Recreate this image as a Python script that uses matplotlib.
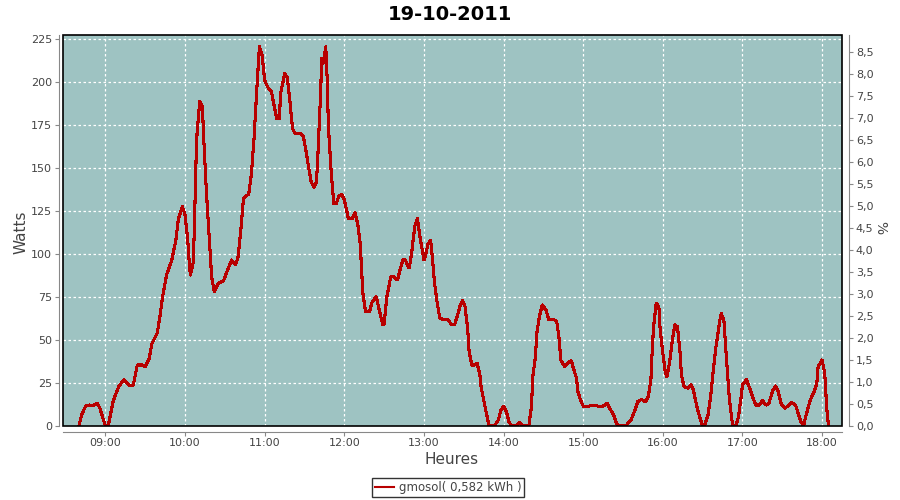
import matplotlib
matplotlib.use('Agg')
import matplotlib.pyplot as plt
import matplotlib.dates as mdates
from matplotlib.patches import Rectangle
from matplotlib.ticker import MultipleLocator, FuncFormatter
import pandas as pd

day = '2011-10-19'
title = '19-10-2011'
serie_name = 'gmosol( 0,582 kWh )'

heures = ['08:40', '08:42', '08:45', '08:48', '08:51', '08:54', '08:56', '08:58', '09:00', '09:02',
          '09:04', '09:06', '09:10', '09:14', '09:16', '09:19', '09:21', '09:24', '09:28', '09:30',
          '09:33', '09:35', '09:39', '09:41', '09:43', '09:46', '09:50', '09:53', '09:55', '09:58',
          '10:00', '10:02', '10:03', '10:04', '10:06', '10:07', '10:08', '10:09', '10:11', '10:13',
          '10:14', '10:16', '10:18', '10:20', '10:22', '10:25', '10:29', '10:32', '10:35', '10:38',
          '10:40', '10:42', '10:44', '10:48', '10:50', '10:52', '10:54', '10:56', '10:58', '11:00',
          '11:03', '11:05', '11:07', '11:09', '11:11', '11:12', '11:15', '11:17', '11:19', '11:21',
          '11:23', '11:27', '11:29', '11:31', '11:33', '11:35', '11:37', '11:39', '11:40', '11:42',
          '11:43', '11:44', '11:46', '11:47', '11:48', '11:50', '11:52', '11:54', '11:56', '11:58',
          '12:00', '12:03', '12:06', '12:08', '12:10', '12:12', '12:13', '12:14', '12:16', '12:19',
          '12:21', '12:24', '12:26', '12:29', '12:30', '12:32', '12:35', '12:37', '12:40', '12:42',
          '12:44', '12:46', '12:48', '12:49', '12:51', '12:53', '12:55', '12:57', '13:00', '13:01',
          '13:03', '13:05', '13:06', '13:08', '13:10', '13:12', '13:15', '13:18', '13:21', '13:23',
          '13:25', '13:27', '13:29', '13:31', '13:33', '13:34', '13:36', '13:38', '13:40', '13:42',
          '13:43', '13:45', '13:47', '13:49', '13:53', '13:56', '13:58', '14:00', '14:02', '14:04',
          '14:06', '14:09', '14:12', '14:15', '14:19', '14:21', '14:22', '14:24', '14:25', '14:27',
          '14:29', '14:32', '14:34', '14:38', '14:40', '14:42', '14:43', '14:46', '14:48', '14:51',
          '14:53', '14:55', '14:56', '14:58', '15:00', '15:03', '15:07', '15:11', '15:15', '15:18',
          '15:20', '15:23', '15:25', '15:27', '15:32', '15:36', '15:39', '15:41', '15:44', '15:47',
          '15:49', '15:51', '15:52', '15:53', '15:55', '15:57', '15:58', '16:00', '16:02', '16:03',
          '16:05', '16:07', '16:09', '16:11', '16:13', '16:14', '16:16', '16:19', '16:21', '16:23',
          '16:24', '16:26', '16:28', '16:30', '16:32', '16:34', '16:36', '16:38', '16:40', '16:43',
          '16:44', '16:46', '16:48', '16:50', '16:52', '16:53', '16:55', '16:57', '16:59', '17:00',
          '17:03', '17:05', '17:08', '17:10', '17:13', '17:15', '17:18', '17:20', '17:23', '17:25',
          '17:27', '17:29', '17:32', '17:34', '17:37', '17:40', '17:42', '17:44', '17:46', '17:47',
          '17:49', '17:51', '17:54', '17:56', '17:57', '18:00', '18:02', '18:03', '18:04', '18:05']

watts = [0, 6.4, 11.6, 12.2, 12, 13.2, 10, 4.6, 0, 0,
         7.4, 15, 23, 27, 25, 23.3, 24, 35.5, 35.5, 34.5,
         39.4, 48, 54, 63.6, 75, 87.8, 96.6, 108, 120.8, 127.6,
         122.7, 108, 96.6, 87.8, 94.6, 114, 149, 170, 188.7, 186,
         168, 137, 112, 86.9, 78, 83, 84.5, 90.7, 96.6, 93.7,
         98.5, 114, 132.5, 135, 147, 168, 195.5, 220.7, 215.8, 201,
         196, 195, 186.7, 179, 179, 193.5, 205, 203, 188.7, 173,
         170, 170, 168.7, 160.6, 150.8, 142, 139, 142, 156.7, 191.6,
         214, 211, 220.7, 203, 174, 149, 129.5, 129.5, 134, 134.8,
         131.5, 120.8, 120.8, 124, 118, 106, 90.7, 77, 66.5, 66.5,
         72.3, 75.2, 68.5, 58.8, 59.6, 75, 86.9, 86.9, 85, 90.7,
         96.6, 96.6, 92.7, 92, 102.4, 116, 120.8, 110, 96.6, 98.5,
         106, 108, 100.5, 83, 71.4, 62.6, 62, 61.8, 58.8, 58.8,
         63.6, 69.4, 72.9, 69.4, 55.8, 43.2, 35.5, 35.5, 36.5, 30.6,
         22.9, 15, 7.4, 0.5, 0, 3.5, 9.3, 11.6, 8.6, 2.5,
         0, 0, 2, 0, 0, 11.2, 28.7, 40.3, 54, 63.6,
         70.4, 67.5, 62, 61.8, 61, 50, 38.4, 34.5, 36.5, 38,
         32.6, 27.7, 20, 15, 11.6, 11.2, 12.2, 11.6, 11.6, 13.2,
         10.3, 6.4, 1.6, 0, 0, 3.5, 9.3, 14.1, 15.5, 14,
         17, 26.8, 44.2, 57.8, 71.4, 69.4, 55.8, 42.3, 30.6, 28.7,
         36.5, 49, 58.8, 57.8, 42.3, 29.7, 22.9, 22, 24, 21,
         17, 10.3, 4.6, 0, 1.6, 6.4, 17, 32.6, 46, 61.7,
         65.5, 61.7, 38.4, 17, 3.5, 0, 0, 5.4, 17, 24,
         27, 22.9, 16.3, 12.2, 12.2, 14.7, 12.2, 13.5, 21, 23.3,
         20, 13.2, 10.3, 11.6, 13.5, 12.2, 7.4, 2.5, 0, 3.5,
         9.3, 15, 20, 24.8, 34.5, 38.4, 30.6, 17, 5.4, 0]

t = pd.to_datetime([day + ' ' + h for h in heures])

fond = '#9ec3c2'
rouge = '#b80000'
gris = '#888888'
texte = '#444444'

fig = plt.figure(figsize=(9, 5), dpi=100)
ax = fig.add_axes([63/900, 74/500, 779/900, 391/500])
ax.set_facecolor(fond)

ligne, = ax.plot(t, watts, color=rouge, lw=1.5, antialiased=False, zorder=3)

ax.set_xlim(pd.Timestamp(day + ' 08:28'), pd.Timestamp(day + ' 18:15'))
ax.set_ylim(0, 227.5)
ax.yaxis.set_major_locator(MultipleLocator(25))
ax.xaxis.set_major_locator(mdates.HourLocator())
ax.xaxis.set_major_formatter(mdates.DateFormatter('%H:%M'))
ax.grid(True, color='white', linestyle=(0, (2, 2)), lw=0.9)

for s in ['top', 'right']:
    ax.spines[s].set_visible(False)
ax.spines['left'].set_position(('outward', 3))
ax.spines['bottom'].set_position(('outward', 4))
ax.spines['left'].set_color(gris)
ax.spines['bottom'].set_color(gris)
ax.tick_params(direction='out', length=3, color=gris, labelsize=8, labelcolor=texte, pad=2)

ax2 = ax.twinx()
ax2.set_ylim(0, 8.886)
ax2.yaxis.set_major_locator(MultipleLocator(0.5))
ax2.yaxis.set_major_formatter(FuncFormatter(lambda v, p: '{:.1f}'.format(v).replace('.', ',')))
for s in ['top', 'left', 'bottom']:
    ax2.spines[s].set_visible(False)
ax2.spines['right'].set_position(('outward', 5))
ax2.spines['right'].set_color(gris)
ax2.tick_params(direction='out', length=3, color=gris, labelsize=8, labelcolor=texte, pad=2)

# cadre noir autour du graphe
ax2.add_patch(Rectangle((0, 0), 1, 1, transform=ax.transAxes, fill=False,
                        edgecolor='black', lw=1.2, clip_on=False, zorder=5))

fig.text(0.5, 0.972, title, ha='center', va='center', fontsize=14, weight='bold')
fig.text(0.023, 0.535, 'Watts', rotation=90, ha='center', va='center', fontsize=11, color=texte)
fig.text(0.502, 0.08, 'Heures', ha='center', va='center', fontsize=11, color=texte)
fig.text(0.978, 0.544, '%', rotation=-90, ha='center', va='center', fontsize=10, color=texte)

leg = fig.legend([ligne], [serie_name], loc='center', bbox_to_anchor=(0.498, 0.025),
                 fontsize=8.5, frameon=True, fancybox=False, handlelength=1.6,
                 borderpad=0.25, handletextpad=0.4, borderaxespad=0)
leg.get_frame().set_edgecolor('black')
leg.get_frame().set_linewidth(1)
for txt in leg.get_texts():
    txt.set_color(texte)

fig.savefig('out.png', dpi=100)
